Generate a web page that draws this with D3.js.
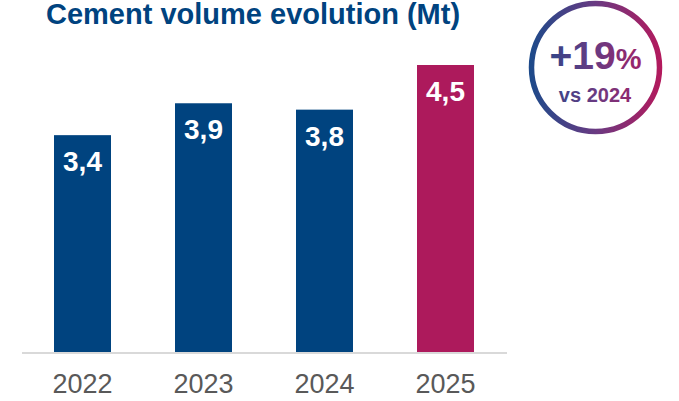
<!DOCTYPE html>
<html><head><meta charset="utf-8">
<script src="https://cdn.jsdelivr.net/npm/d3@7"></script>
<style>body{margin:0;background:#fff}svg{display:block;font-family:"Liberation Sans",Arial,sans-serif}</style>
</head><body><svg id="c" width="679" height="401"></svg>
<script>
const years = ["2022","2023","2024","2025"];
const volumes = [3.4, 3.9, 3.8, 4.5];
const labels = ["3,4","3,9","3,8","4,5"];
const title = "Cement volume evolution (Mt)";
const badgeMain = "+19";
const badgePct = "%";
const badgeSub = "vs 2024";

const svg = d3.select("#c");
const blue = "#00437f", mag = "#ad1a5c";
const baseY = 352;
const x = d3.scaleBand().domain(years).range([22, 506]).paddingInner(0.529).paddingOuter(0.2645);
const y = d3.scaleLinear().domain([0, 4.5]).range([baseY, 65]);

// axis line
svg.append("line").attr("x1",22).attr("x2",507).attr("y1",baseY+1).attr("y2",baseY+1)
  .attr("stroke","#d9d9d9").attr("stroke-width",2);

const g = svg.append("g");
g.selectAll("rect").data(volumes).join("rect")
  .attr("x",(d,i)=>x(years[i])).attr("width",x.bandwidth())
  .attr("y",d=>y(d)).attr("height",d=>baseY-y(d))
  .attr("fill",(d,i)=>i===3?mag:blue);
g.selectAll("text.v").data(volumes).join("text").attr("class","v")
  .attr("x",(d,i)=>x(years[i])+x.bandwidth()/2).attr("y",d=>y(d)+36)
  .attr("text-anchor","middle").attr("fill","#fff").attr("font-weight","bold").attr("font-size",28)
  .text((d,i)=>labels[i]);

// x axis labels
const ax = svg.append("g").attr("transform",`translate(0,${baseY})`)
  .call(d3.axisBottom(x).tickSize(0).tickPadding(0));
ax.select(".domain").remove();
ax.selectAll("text").attr("font-size",27).attr("fill","#595959")
  .attr("font-family","Liberation Sans, Arial, sans-serif").attr("dy",null).attr("y",41);

// title
svg.append("text").attr("x",46).attr("y",24).attr("font-size",29).attr("font-weight","bold")
  .attr("fill",blue).text(title);

// badge
const defs = svg.append("defs");
const gr = defs.append("linearGradient").attr("id","gr").attr("gradientUnits","userSpaceOnUse")
  .attr("x1",530).attr("y1",67).attr("x2",662).attr("y2",67);
gr.append("stop").attr("offset","0%").attr("stop-color","#1d4a8a");
gr.append("stop").attr("offset","50%").attr("stop-color","#6a3a82");
gr.append("stop").attr("offset","100%").attr("stop-color","#b4195c");
svg.append("circle").attr("cx",595.5).attr("cy",67.5).attr("r",64)
  .attr("fill","none").attr("stroke","url(#gr)").attr("stroke-width",5.5);
const t1 = svg.append("text").attr("x",595.5).attr("y",69).attr("text-anchor","middle")
  .attr("font-weight","bold").attr("fill","url(#gr)");
t1.append("tspan").attr("font-size",39).text(badgeMain);
t1.append("tspan").attr("font-size",29).text(badgePct);
svg.append("text").attr("x",595).attr("y",102).attr("text-anchor","middle")
  .attr("font-weight","bold").attr("font-size",20).attr("fill","url(#gr)").text(badgeSub);
</script></body></html>
